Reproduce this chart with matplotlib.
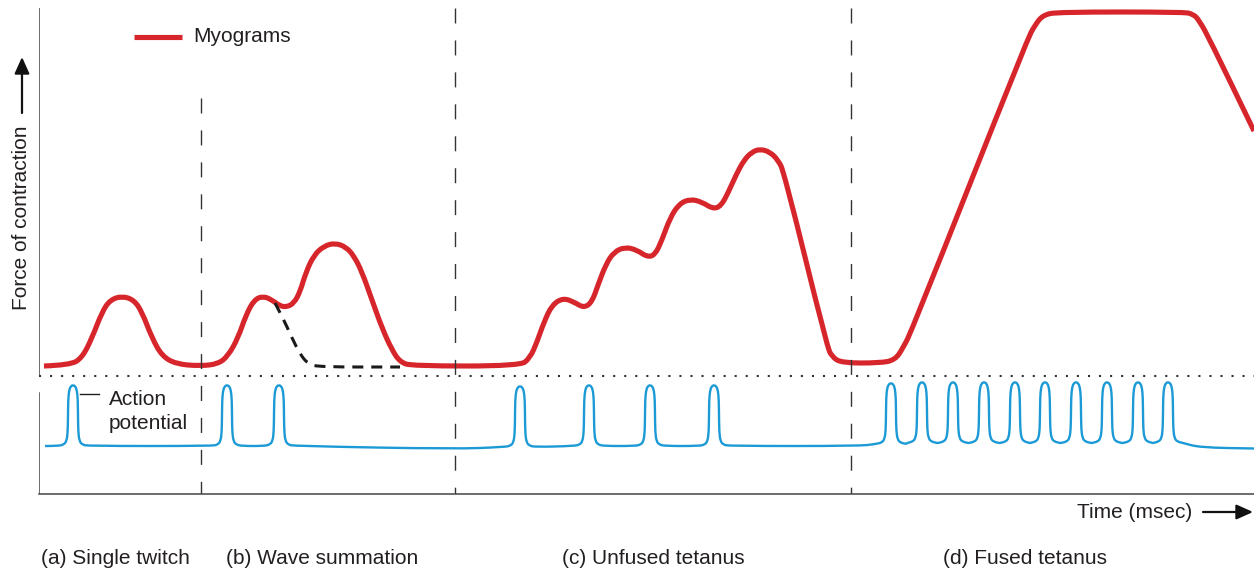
import matplotlib
matplotlib.use('Agg')
import matplotlib.pyplot as plt
from matplotlib.path import Path
from matplotlib.patches import PathPatch

plt.rcParams['font.family'] = ['Liberation Sans', 'DejaVu Sans']

# myogram (time in msec units, force in arbitrary units)
myo_t = [5, 31, 43, 53, 63, 71, 83, 95, 103, 113, 123, 137, 161, 179, 189, 199, 207, 215, 224, 233,
         241, 248, 255, 261, 267, 275, 285, 296, 307, 315, 323, 333, 343, 353, 361, 373, 481, 491,
         498, 505, 513, 524, 535, 545, 553, 559, 567, 575, 586, 598, 608, 616, 623, 631, 640, 651,
         663, 674, 682, 689, 697, 705, 713, 721, 731, 739, 745, 788, 793, 803, 841, 856, 864, 873,
         988, 996, 1004, 1019, 1144, 1154, 1160, 1171, 1215]
myo_f = [128, 129, 136, 156, 182, 194, 198, 194, 182, 156, 138, 130, 128, 130, 138, 156, 179, 194, 198, 194,
         188, 187, 191, 202, 222, 239, 248, 251, 247, 238, 222, 194, 166, 144, 132, 128, 128, 136,
         152, 172, 189, 196, 192, 186, 192, 209, 230, 242, 247, 244, 237, 239, 254, 276, 290, 295,
         292, 285, 288, 301, 319, 334, 342, 345, 342, 334, 322, 148, 137, 131, 131, 134, 146, 164,
         454, 469, 479, 482, 482, 480, 474, 454, 363]

# single twitch decay shown dashed in wave summation
decay_t = [236, 244, 253, 261, 269, 281, 361]
decay_f = [191, 176, 156, 140, 130, 127, 127]

# action potentials
spike_t = [34, 188, 240, 481, 550, 611, 675, 852, 883, 914, 945, 976, 1006, 1037, 1068, 1099, 1129]
spike_base = [48, 48, 48, 47, 48, 48, 48, 50, 51, 51, 51, 51, 51, 51, 51, 51, 51]
spike_dt = [-15, -9, -6.5, -5.3, -5, -4.8, -4, -2.5, 0, 2.5, 4, 4.8, 5, 5.3, 6.5, 9, 15]
spike_df = [0, 1.5, 5, 13, 30, 46, 55, 59.5, 61, 59.5, 55, 46, 30, 13, 5, 1.5, 0]
base_t = [6, 416, 820, 1161, 1215]
base_f = [48, 45, 48, 46.5, 45.5]

phase_t = [162, 416, 812]
phase_top = [396, 486, 486]
labels = ['(a) Single twitch', '(b) Wave summation', '(c) Unfused tetanus', '(d) Fused tetanus']
label_t = [2, 187, 523, 904]

red = '#d7262b'
blue = '#1b9ad6'
dark = '#231f20'


def smooth_path(xs, ys):
    verts = [(xs[0], ys[0])]
    codes = [Path.MOVETO]
    for i in range(1, len(xs) - 1):
        verts += [(xs[i], ys[i]), ((xs[i] + xs[i + 1]) / 2, (ys[i] + ys[i + 1]) / 2)]
        codes += [Path.CURVE3, Path.CURVE3]
    verts.append((xs[-1], ys[-1]))
    codes.append(Path.LINETO)
    return Path(verts, codes)


fig = plt.figure(figsize=(12.54, 5.71), dpi=100)
ax = fig.add_axes([39 / 1254, 77 / 571, 1215 / 1254, 486 / 571])
ax.set_xlim(0, 1215)
ax.set_ylim(0, 486)
ax.set_xticks([])
ax.set_yticks([])
for s in ['top', 'right', 'left']:
    ax.spines[s].set_visible(False)
ax.spines['bottom'].set_color('#444444')
ax.spines['bottom'].set_linewidth(1.1)
ax.axvline(0, 0, 101 / 486, color='#444444', lw=1.1)
ax.axvline(0, 119 / 486, 1, color='#444444', lw=1.1)

# phase dividers
for t, top in zip(phase_t, phase_top):
    ax.plot([t, t], [top, 0], color='#333333', lw=1.0, ls=(0, (10.8, 12.2)))

# resting level
ax.axhline(118, color='#333333', lw=1.5, ls=(0, (1, 4.3)))

# myogram
ax.add_patch(PathPatch(smooth_path(myo_t, myo_f), fill=False, edgecolor=red, lw=3.7,
                       capstyle='butt', joinstyle='round'))
ax.add_patch(PathPatch(smooth_path(decay_t, decay_f), fill=False, edgecolor='#1a1a1a', lw=2.2,
                       ls=(0, (3.6, 2.6))))

# action potential trace
pts = list(zip(base_t, base_f))
for t, b in zip(spike_t, spike_base):
    pts += [(t + dt, b + df) for dt, df in zip(spike_dt, spike_df)]
pts.sort()
ax.add_patch(PathPatch(smooth_path([p[0] for p in pts], [p[1] for p in pts]), fill=False,
                       edgecolor=blue, lw=1.7, joinstyle='round'))

# legend
ax.plot([95, 143], [457, 457], color=red, lw=3.7, solid_capstyle='butt')
ax.text(154, 457, 'Myograms', fontsize=15, color=dark, va='center', ha='left')

# action potential label
ax.plot([41, 60], [100, 100], color=dark, lw=1.0)
ax.text(70, 89, 'Action', fontsize=15, color=dark, va='baseline', ha='left')
ax.text(70, 65, 'potential', fontsize=15, color=dark, va='baseline', ha='left')

# axis titles with arrows
arrow = dict(arrowstyle='-|>,head_length=1.0,head_width=0.45', color='#111111', lw=1.6,
             shrinkA=0, shrinkB=0)
ax.text(-17, 276, 'Force of contraction', fontsize=15, color=dark, rotation=90,
        va='center', ha='center', clip_on=False)
ax.annotate('', xy=(-17, 437), xytext=(-17, 381), annotation_clip=False, arrowprops=arrow)
ax.text(1038, -18, 'Time (msec)', fontsize=15, color=dark, va='center', ha='left', clip_on=False)
ax.annotate('', xy=(1214, -18), xytext=(1164, -18), annotation_clip=False, arrowprops=arrow)

for lab, t in zip(labels, label_t):
    ax.text(t, -64, lab, fontsize=15, color=dark, va='center', ha='left', clip_on=False)

fig.savefig('out.png', dpi=100)
